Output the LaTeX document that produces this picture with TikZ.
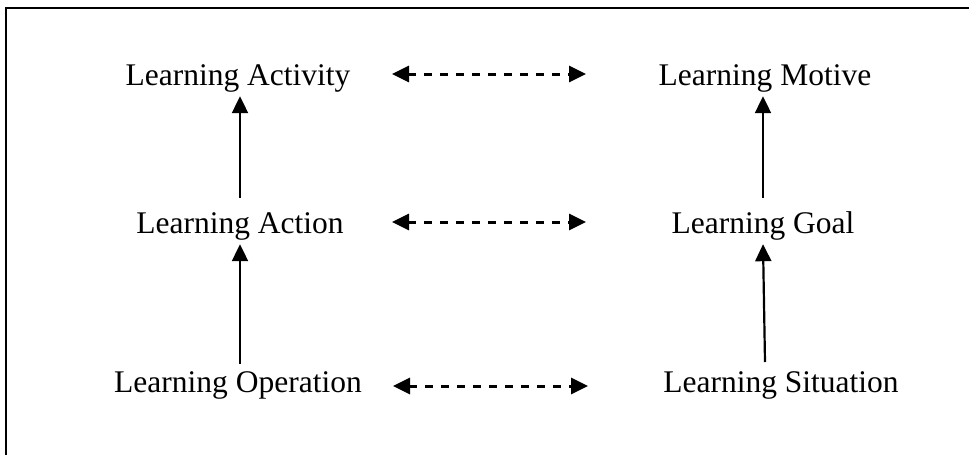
\documentclass[tikz,border=0pt]{standalone}
\usepackage{fontspec}
\setmainfont{Liberation Serif}
\usetikzlibrary{arrows.meta}
\begin{document}
\begin{tikzpicture}[x=1pt,y=-1pt,
  label/.style={font=\fontsize{31.5}{37}\selectfont, anchor=base,
    text height=22pt, text depth=7pt, inner sep=4pt},
  head/.style={Triangle[length=17pt,width=16pt]},
  uparrow/.style={-{Triangle[length=17pt,width=16pt]}, line width=2.2pt},
  link/.style={{Triangle[length=17pt,width=16pt]}-{Triangle[length=17pt,width=16pt]},
    line width=3pt, dash pattern=on 8pt off 8pt}]
  \useasboundingbox (0,0) rectangle (969,455);
  % open frame: left and top edges
  \draw[line width=2.4pt] (6,455) -- (6,8) -- (969,8);

  % left column
  \node[label] (activity)  at (238,85)  {Learning Activity};
  \node[label] (action)    at (240,233) {Learning Action};
  \node[label] (operation) at (238,392) {Learning Operation};
  % right column
  \node[label] (motive)    at (765,85)  {Learning Motive};
  \node[label] (goal)      at (763,233) {Learning Goal};
  \node[label] (situation) at (781,392) {Learning Situation};

  % upward arrows
  \draw[uparrow, shorten <=9pt] (action.north) -- (action.north |- activity.south);
  \draw[uparrow, shorten <=2pt] (action.south |- operation.north) -- (action.south);
  \draw[uparrow, shorten <=9pt] (goal.north) -- (goal.north |- motive.south);
  \coordinate (sitfoot) at (765,362);
  \draw[uparrow] (sitfoot) -- (goal.south);

  % dashed correspondences between the columns
  \coordinate (d1l) at (392,74);  \coordinate (d1r) at (586,74);
  \coordinate (d2l) at (392,222); \coordinate (d2r) at (586,222);
  \coordinate (d3l) at (393,386); \coordinate (d3r) at (588,386);
  \draw[link] (d1l) -- (d1r);
  \draw[link] (d2l) -- (d2r);
  \draw[link] (d3l) -- (d3r);
\end{tikzpicture}
\end{document}
